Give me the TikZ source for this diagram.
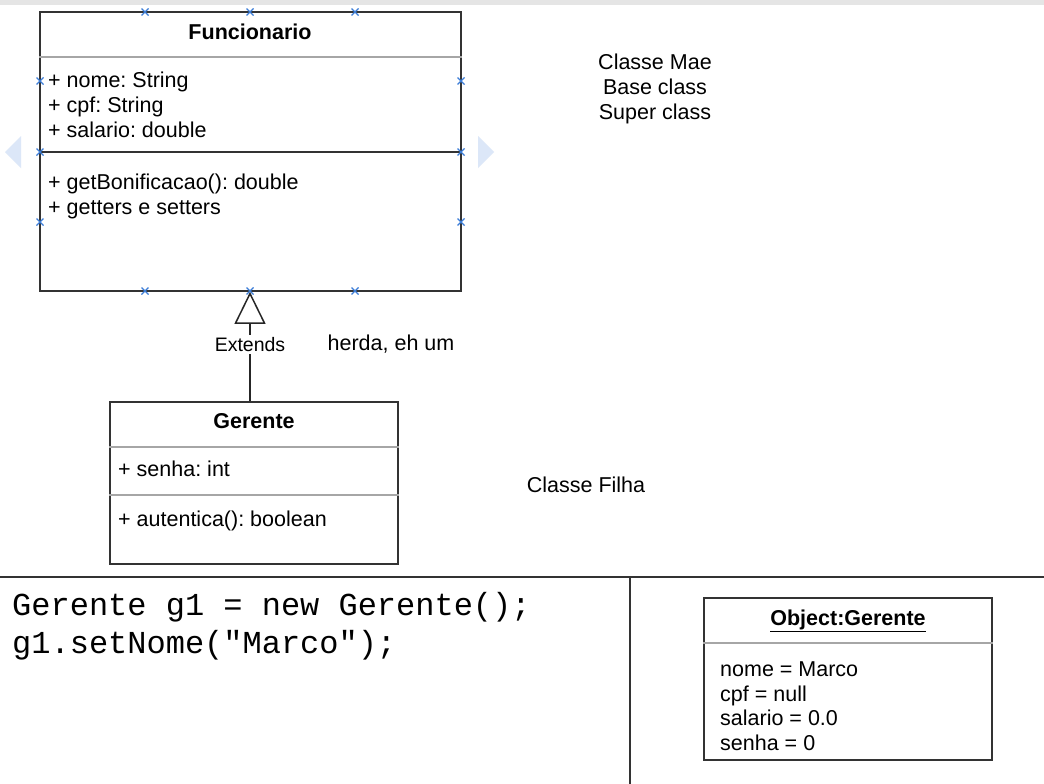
\documentclass[tikz,border=0pt]{standalone}
\usepackage{fontspec}
\setmainfont{Liberation Sans}
\setmonofont{Liberation Mono}
\usepackage{xcolor}
\usetikzlibrary{arrows.meta, positioning}

\definecolor{handleblue}{HTML}{3B7DD8}
\definecolor{navblue}{HTML}{DCE7F8}
\frenchspacing

\begin{document}
\begin{tikzpicture}[x=1pt, y=-1pt, on grid, node distance=25pt,
    umlbox/.style={rectangle, draw=black!80, line width=1.8pt, inner sep=0pt},
    sep/.style={draw=black!35, line width=1.6pt},
    title/.style={font=\fontsize{21.5}{25}\selectfont\bfseries, inner sep=0pt, text height=17pt, text depth=2pt},
    member/.style={font=\fontsize{21.5}{25}\selectfont, anchor=west, inner sep=0pt, text height=17pt, text depth=2pt},
    note/.style={font=\fontsize{21.5}{25}\selectfont, inner sep=0pt, text height=17pt, text depth=2pt},
    code/.style={font=\fontsize{32}{38}\selectfont\ttfamily, anchor=west, inner sep=0pt, text height=23pt, text depth=5pt},
    handle/.style={draw=handleblue, line width=1.4pt}]

    \useasboundingbox (0,0) rectangle (1044,784);
    \fill[white] (0,0) rectangle (1044,784);
    \fill[black!10] (0,0) rectangle (1044,5);

    % superclass
    \node[umlbox, minimum width=421pt, minimum height=279pt] (fun) at (250.5,151.5) {};
    \node[title] (funname) at (250,32) {Funcionario};
    \draw[sep] (fun.west |- 0,57) -- (fun.east |- 0,57);
    \draw[umlbox] (fun.west |- 0,152) -- (fun.east |- 0,152);

    \node[member] (nome) at (48,80) {+ nome: String};
    \node[member, below=of nome.west, anchor=west] (cpf) {+ cpf: String};
    \node[member, below=of cpf.west, anchor=west] (salario) {+ salario: double};

    \node[member] (bonif) at (48,182) {+ getBonificacao(): double};
    \node[member, below=of bonif.west, anchor=west] (getset) {+ getters e setters};

    % selection handles
    \foreach \hx in {145,250,355} {
        \draw[handle] (\hx-3.5,12-3.5) -- (\hx+3.5,12+3.5) (\hx-3.5,12+3.5) -- (\hx+3.5,12-3.5);
        \draw[handle] (\hx-3.5,291-3.5) -- (\hx+3.5,291+3.5) (\hx-3.5,291+3.5) -- (\hx+3.5,291-3.5);
    }
    \foreach \hy in {81,152,222} {
        \draw[handle] (40-3.5,\hy-3.5) -- (40+3.5,\hy+3.5) (40-3.5,\hy+3.5) -- (40+3.5,\hy-3.5);
        \draw[handle] (461-3.5,\hy-3.5) -- (461+3.5,\hy+3.5) (461-3.5,\hy+3.5) -- (461+3.5,\hy-3.5);
    }
    \fill[navblue] (21,136) -- (21,168) -- (5,152) -- cycle;
    \fill[navblue] (478,136) -- (478,168) -- (494,152) -- cycle;

    \node[note] (mae) at (655,62) {Classe Mae};
    \node[note, below=of mae] (base) {Base class};
    \node[note, below=of base] (super) {Super class};

    % subclass
    \node[umlbox, minimum width=288pt, minimum height=162pt] (ger) at (254,483) {};
    \node[title] (gername) at (254,421) {Gerente};
    \draw[sep] (ger.west |- 0,447) -- (ger.east |- 0,447);
    \draw[sep] (ger.west |- 0,495) -- (ger.east |- 0,495);
    \node[member] (senha) at (118,469) {+ senha: int};
    \node[member] (autentica) at (118,519) {+ autentica(): boolean};

    \draw[line width=1.5pt, black!85, -{Triangle[open, length=32pt, width=31pt, line width=1.5pt]}]
        (ger.north -| 250,0) -- node[pos=0.52, fill=white, text=black, inner sep=2pt, font=\fontsize{19.5}{22}\selectfont, text height=15pt, text depth=0pt] (ext) {Extends} (fun.south -| 250,0);

    \node[note] (herda) at (391,343) {herda, eh um};
    \node[note] (filha) at (586,485) {Classe Filha};

    % bottom panels
    \coordinate (hl) at (0,577);
    \coordinate (hr) at (1044,577);
    \coordinate (vt) at (630,577);
    \coordinate (vb) at (630,784);
    \draw[line width=1.8pt, black!80] (hl) -- (hr);
    \draw[line width=1.8pt, black!80] (vt) -- (vb);

    \node[code] (line1) at (12,606) {Gerente g1 = new Gerente();};
    \node[code] (line2) at (12,644) {g1.setNome("Marco");};

    \node[umlbox, minimum width=288pt, minimum height=162pt] (obj) at (848,679) {};
    \node[title] (objname) at (848,618) {\underline{Object:Gerente}};
    \draw[sep] (obj.west |- 0,643) -- (obj.east |- 0,643);
    \node[member] (onome) at (720,669) {nome = Marco};
    \node[member, below=24.7pt of onome.west, anchor=west] (ocpf) {cpf = null};
    \node[member, below=24.7pt of ocpf.west, anchor=west] (osal) {salario = 0.0};
    \node[member, below=24.7pt of osal.west, anchor=west] (osenha) {senha = 0};

\end{tikzpicture}
\end{document}
